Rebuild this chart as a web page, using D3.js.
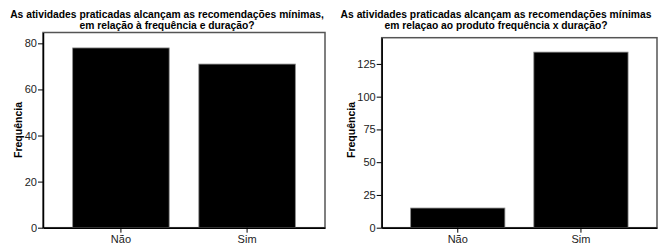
<!DOCTYPE html>
<html>
<head>
<meta charset="utf-8">
<script src="https://cdn.jsdelivr.net/npm/d3@7"></script>
<style>
  body { margin: 0; background: #fff; }
  svg { display: block; font-family: Arial, "Liberation Sans", sans-serif; }
</style>
</head>
<body>
<div id="chart"></div>
<script>
// data
var categories = ['Não', 'Sim'];
var freqDuracao = [78, 71];
var produtoFreqDuracao = [15, 134];
var ticksLeft = [0, 20, 40, 60, 80];
var ticksRight = [0, 25, 50, 75, 100, 125];
var titleLeft = ['As atividades praticadas alcançam as recomendações mínimas,', 'em relação à frequência e duração?'];
var titleRight = ['As atividades praticadas alcançam as recomendações mínimas', 'em relaçao ao produto frequência x duração?'];

var svg = d3.select('#chart').append('svg')
    .attr('width', 665)
    .attr('height', 244);

function drawPanel(opts) {
    var x = d3.scaleBand()
        .domain(categories)
        .range([opts.left, opts.right])
        .paddingInner(0.235)
        .paddingOuter(0.235);
    var y = d3.scaleLinear()
        .domain([0, opts.max])
        .range([opts.bottom, opts.top]);

    var g = svg.append('g');

    // title, two lines
    g.append('text')
        .attr('x', opts.titleX)
        .attr('y', 18)
        .attr('text-anchor', 'middle')
        .style('font-size', '10.3px')
        .style('font-weight', 'bold')
        .selectAll('tspan')
        .data(opts.title)
        .join('tspan')
        .attr('x', opts.titleX)
        .attr('dy', function(d, i) { return i ? 10.5 : 0; })
        .text(function(d) { return d; });

    // frame
    g.append('rect')
        .attr('x', opts.left)
        .attr('y', opts.top)
        .attr('width', opts.right - opts.left)
        .attr('height', opts.bottom - opts.top)
        .style('fill', 'none')
        .style('stroke', '#555')
        .style('stroke-width', 1.5);

    // bars
    g.selectAll('.bar')
        .data(opts.values)
        .join('rect')
        .attr('class', 'bar')
        .attr('x', function(d, i) { return x(categories[i]); })
        .attr('y', function(d) { return y(d); })
        .attr('width', x.bandwidth())
        .attr('height', function(d) { return y(0) - y(d); })
        .style('fill', '#000')
        .style('stroke', '#888')
        .style('stroke-width', 0.8);

    // y axis
    var yAxis = g.append('g')
        .attr('transform', 'translate(' + opts.left + ',0)')
        .call(d3.axisLeft(y).tickValues(opts.ticks).tickSize(5).tickPadding(1).tickSizeOuter(0));
    yAxis.select('.domain').attr('stroke', '#000').attr('stroke-width', 1.5);
    yAxis.selectAll('text').style('font-size', '11px').style('fill', '#222').style('font-family', 'Arial, "Liberation Sans", sans-serif');

    // x axis
    var xAxis = g.append('g')
        .attr('transform', 'translate(0,' + opts.bottom + ')')
        .call(d3.axisBottom(x).tickSize(5).tickPadding(2.5).tickSizeOuter(0));
    xAxis.select('.domain').attr('stroke', '#000').attr('stroke-width', 1.5);
    xAxis.selectAll('text').style('font-size', '11px').style('fill', '#222').style('font-family', 'Arial, "Liberation Sans", sans-serif');

    // y label
    g.append('text')
        .attr('transform', 'translate(' + opts.labelX + ',130) rotate(-90)')
        .attr('text-anchor', 'middle')
        .style('font-size', '10.5px')
        .style('font-weight', 'bold')
        .text('Frequência');
}

drawPanel({
    left: 43, right: 325, top: 32.5, bottom: 227.7, max: 84.7,
    values: freqDuracao, ticks: ticksLeft,
    title: titleLeft, titleX: 167, labelX: 22
});

drawPanel({
    left: 381.7, right: 657, top: 37.7, bottom: 227.7, max: 145,
    values: produtoFreqDuracao, ticks: ticksRight,
    title: titleRight, titleX: 496, labelX: 355
});
</script>
</body>
</html>
